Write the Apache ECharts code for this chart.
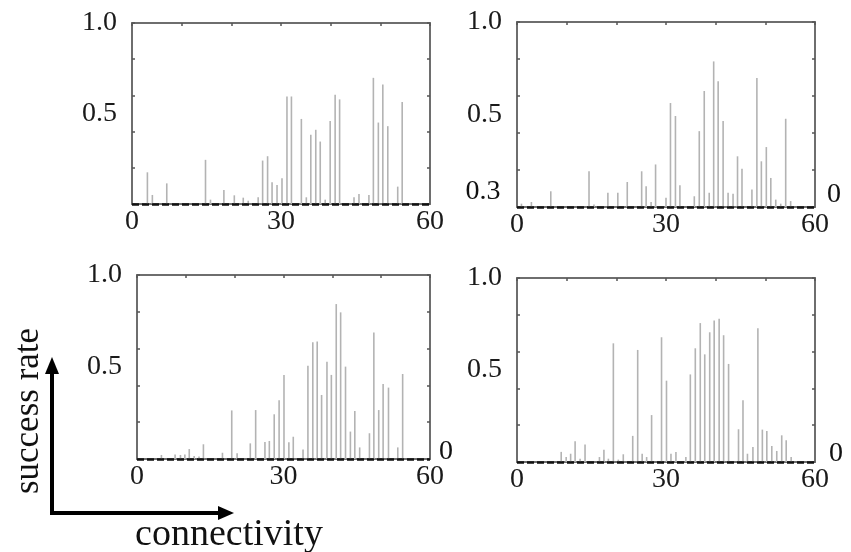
<!DOCTYPE html>
<html>
<head>
<meta charset="utf-8">
<script src="https://cdn.jsdelivr.net/npm/echarts@6/dist/echarts.min.js"></script>
<style>
  html, body { margin: 0; padding: 0; background: #fff; }
  #chart { width: 851px; height: 552px; }
</style>
</head>
<body>
<div id="chart"></div>
<script>
// connectivity positions and success rates
const p1X = [3.1, 4.1, 7.0, 14.8, 15.8, 18.5, 20.6, 22.4, 23.4, 25.4, 26.3, 27.3, 28.2, 29.2, 30.2, 31.2, 32.1, 34.1, 35.1, 36.0, 37.0, 37.9, 38.9, 39.9, 40.9, 41.8, 44.7, 45.7, 47.7, 48.6, 49.6, 50.5, 51.5, 53.5, 54.4];
const p1Y = [0.175, 0.05, 0.114, 0.244, 0.024, 0.077, 0.048, 0.035, 0.018, 0.037, 0.24, 0.264, 0.12, 0.105, 0.142, 0.594, 0.594, 0.47, 0.037, 0.382, 0.41, 0.345, 0.024, 0.458, 0.603, 0.578, 0.037, 0.055, 0.05, 0.697, 0.45, 0.66, 0.43, 0.096, 0.563];

const p2X = [0.9, 2.9, 6.8, 14.5, 15.5, 18.3, 20.3, 22.2, 25.1, 26.0, 27.0, 27.9, 30.0, 30.9, 31.9, 32.8, 35.7, 36.7, 37.7, 38.7, 39.6, 40.5, 41.5, 42.5, 43.5, 44.4, 45.3, 47.3, 48.3, 49.2, 50.2, 51.1, 52.1, 53.1, 54.1, 55.1];
const p2Y = [0.018, 0.027, 0.085, 0.193, 0.014, 0.077, 0.077, 0.135, 0.193, 0.112, 0.027, 0.23, 0.05, 0.562, 0.492, 0.117, 0.058, 0.41, 0.627, 0.077, 0.787, 0.68, 0.465, 0.077, 0.072, 0.274, 0.207, 0.094, 0.697, 0.247, 0.324, 0.157, 0.04, 0.018, 0.477, 0.032];

const p3X = [5.0, 7.8, 8.9, 9.8, 10.7, 11.7, 12.7, 13.6, 17.5, 19.4, 20.5, 23.2, 24.3, 26.2, 27.1, 28.1, 29.1, 30.1, 31.1, 32.0, 34.0, 35.0, 36.0, 36.9, 37.8, 38.9, 39.8, 40.8, 41.7, 42.7, 43.7, 44.6, 45.6, 47.6, 48.5, 49.5, 50.4, 51.5, 53.4, 54.4];
const p3Y = [0.022, 0.025, 0.022, 0.025, 0.054, 0.016, 0.014, 0.08, 0.034, 0.264, 0.031, 0.085, 0.266, 0.092, 0.098, 0.243, 0.319, 0.457, 0.091, 0.121, 0.051, 0.507, 0.634, 0.638, 0.348, 0.529, 0.457, 0.842, 0.797, 0.502, 0.149, 0.261, 0.063, 0.14, 0.688, 0.266, 0.408, 0.388, 0.063, 0.462];

const p4X = [8.9, 9.9, 10.8, 11.7, 12.7, 13.7, 16.6, 17.5, 18.4, 19.4, 20.4, 21.4, 23.3, 24.3, 25.2, 26.1, 27.1, 29.1, 30.1, 31.0, 32.0, 34.0, 34.9, 35.9, 36.9, 37.8, 38.8, 39.7, 40.7, 41.6, 42.6, 44.6, 45.5, 46.4, 47.5, 48.5, 49.4, 50.3, 51.3, 52.3, 53.3, 54.2, 55.2];
const p4Y = [0.055, 0.027, 0.045, 0.113, 0.018, 0.095, 0.027, 0.067, 0.018, 0.645, 0.013, 0.042, 0.142, 0.609, 0.045, 0.027, 0.255, 0.678, 0.442, 0.045, 0.055, 0.027, 0.476, 0.618, 0.755, 0.585, 0.705, 0.769, 0.778, 0.689, 0.533, 0.178, 0.336, 0.045, 0.082, 0.727, 0.176, 0.169, 0.087, 0.06, 0.145, 0.118, 0.027];

const xLabels = [0, 30, 60];
const yLabels = [0.5, 1.0];

const panels = [
  { x: p1X, y: p1Y, grid: { left: 132, top: 23, width: 298, height: 181 } },
  { x: p2X, y: p2Y, grid: { left: 517, top: 22, width: 298, height: 185 } },
  { x: p3X, y: p3Y, grid: { left: 137, top: 275, width: 293, height: 184 } },
  { x: p4X, y: p4Y, grid: { left: 517, top: 278, width: 298, height: 184 } }
];

const FONT = 'Liberation Serif';
const frame = { color: '#6e6e6e', width: 2 };
const tick = { color: '#555', width: 1.5 };

const grid = [], xAxis = [], yAxis = [], series = [];

panels.forEach((p, i) => {
  grid.push(p.grid);
  // bottom axis with 0 / 30 / 60 labels
  xAxis.push({
    type: 'value', gridIndex: i, min: 0, max: 60, interval: 30, position: 'bottom',
    axisLine: { show: true, onZero: false, lineStyle: frame },
    axisTick: { show: false },
    splitLine: { show: false },
    axisLabel: {
      margin: 4, fontFamily: FONT, fontSize: 28, color: '#1a1a1a',
      formatter: v => xLabels.includes(v) ? String(v) : ''
    }
  });
  // top axis, ticks only
  xAxis.push({
    type: 'value', gridIndex: i, min: 0, max: 60, interval: 10, position: 'top',
    axisLine: { show: true, onZero: false, lineStyle: frame },
    axisTick: { show: true, inside: true, length: 3, lineStyle: tick },
    splitLine: { show: false },
    axisLabel: { show: false }
  });
  // left labels
  yAxis.push({
    type: 'value', gridIndex: i, min: 0, max: 1, interval: 0.5, position: 'left',
    axisLine: { show: true, onZero: false, lineStyle: frame },
    axisTick: { show: false },
    splitLine: { show: false },
    axisLabel: {
      margin: 15, fontFamily: FONT, fontSize: 28, color: '#1a1a1a',
      formatter: v => yLabels.includes(v) ? v.toFixed(1) : ''
    }
  });
  // left ticks
  yAxis.push({
    type: 'value', gridIndex: i, min: 0, max: 1, interval: 0.2, position: 'left',
    axisLine: { show: false, onZero: false },
    axisTick: { show: true, inside: true, length: 3, lineStyle: tick },
    splitLine: { show: false },
    axisLabel: { show: false }
  });
  // right frame + ticks
  yAxis.push({
    type: 'value', gridIndex: i, min: 0, max: 1, interval: 0.2, position: 'right',
    axisLine: { show: true, onZero: false, lineStyle: frame },
    axisTick: { show: true, inside: true, length: 3, lineStyle: tick },
    splitLine: { show: false },
    axisLabel: { show: false }
  });
  series.push({
    type: 'bar',
    xAxisIndex: i * 2,
    yAxisIndex: i * 3,
    barWidth: 1.6,
    itemStyle: { color: '#b3b3b3' },
    data: p.x.map((x, k) => [x, p.y[k]]),
    markLine: {
      silent: true, symbol: 'none', label: { show: false },
      lineStyle: { color: '#111', width: 2.5, type: [7, 3] },
      data: [{ yAxis: 0 }]
    }
  });
});

const txt = (x, y, s, size, extra) => Object.assign({
  type: 'text', x: x, y: y, silent: true,
  style: { text: s, fontFamily: FONT, fontSize: size, fill: '#111', align: 'center', verticalAlign: 'middle' }
}, extra || {});

const graphic = [
  txt(483, 192, '0.3', 28),
  txt(834, 195, '0', 28),
  txt(446, 452, '0', 28),
  txt(836, 454, '0', 28),
  txt(29, 411, 'success rate', 35, { rotation: Math.PI / 2 }),
  txt(229, 535, 'connectivity', 38),
  // axis arrows
  { type: 'polyline', silent: true, shape: { points: [[52, 372], [52, 513], [220, 513]] },
    style: { stroke: '#000', lineWidth: 4, fill: null } },
  { type: 'polygon', silent: true, shape: { points: [[45, 374], [59, 374], [52, 357]] }, style: { fill: '#000' } },
  { type: 'polygon', silent: true, shape: { points: [[218, 506], [218, 520], [234, 513]] }, style: { fill: '#000' } }
];

const chart = echarts.init(document.getElementById('chart'));
chart.setOption({
  animation: false,
  backgroundColor: '#fff',
  grid: grid,
  xAxis: xAxis,
  yAxis: yAxis,
  series: series,
  graphic: graphic
});
</script>
</body>
</html>
